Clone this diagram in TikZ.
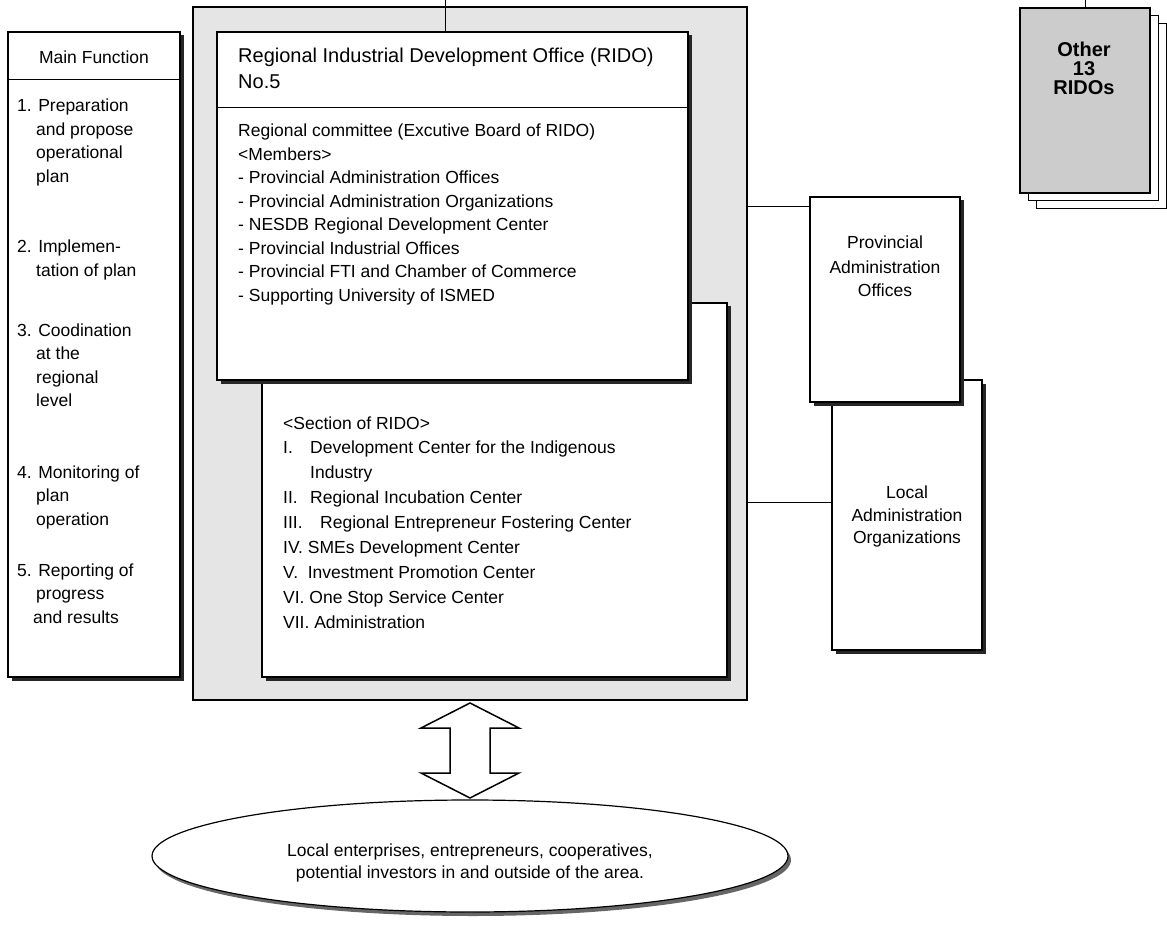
\documentclass[tikz,border=0pt]{standalone}
\usepackage{fontspec}
\setmainfont{Liberation Sans}
\usetikzlibrary{shadows,shapes.geometric}
\newcommand\fbody{\fontsize{17.5pt}{23.5pt}\selectfont}
\newcommand\ftitle{\fontsize{20pt}{26pt}\selectfont}
\newcommand\fother{\fontsize{20pt}{19pt}\selectfont\bfseries}
\tikzset{
  panel/.style={draw=black, line width=1.2pt, fill=white, inner sep=0pt, rectangle},
  shadowed/.style={drop shadow={shadow xshift=3.5pt, shadow yshift=-3.5pt, fill=black!85, opacity=1}},
  lbl/.style={anchor=base west, inner sep=0pt, font=\fbody},
  clbl/.style={anchor=base, inner sep=0pt, font=\fbody},
  link/.style={draw=black, line width=1pt},
}
\begin{document}
\begin{tikzpicture}[x=1pt,y=-1pt]
\useasboundingbox (0,0) rectangle (1167,925);

% ---------- Main Function box ----------
\node[panel, shadowed, minimum width=172pt, minimum height=645pt] (mf) at (94,354.5) {};
\coordinate (mfsep) at (0,80);
\draw[link] (mf.west |- mfsep) -- (mf.east |- mfsep);
\node[clbl] (mft) at (94,64) {Main Function};
\node[lbl] at (17,112) {1. Preparation};
\node[lbl] at (36,135.5) {and propose};
\node[lbl] at (36,159) {operational};
\node[lbl] at (36,182.5) {plan};
\node[lbl] at (17,253) {2. Implemen-};
\node[lbl] at (36,276.5) {tation of plan};
\node[lbl] at (17,336) {3. Coodination};
\node[lbl] at (36,359.5) {at the};
\node[lbl] at (36,383) {regional};
\node[lbl] at (36,406.5) {level};
\node[lbl] at (17,478) {4. Monitoring of};
\node[lbl] at (36,501.5) {plan};
\node[lbl] at (36,525) {operation};
\node[lbl] at (17,576) {5. Reporting of};
\node[lbl] at (36,599.5) {progress};
\node[lbl] at (33,623) {and results};

% ---------- outer shaded RIDO frame ----------
\node[draw=black, line width=1.2pt, fill=black!10, inner sep=0pt, minimum width=554pt, minimum height=693pt] (outer) at (470,353.5) {};

% section box (behind committee box)
\node[panel, shadowed, minimum width=465pt, minimum height=374pt] (sec) at (494.5,490) {};
% committee box
\node[panel, shadowed, minimum width=471pt, minimum height=348pt] (rido) at (452.5,206) {};
\coordinate (ridosep) at (0,108);
\draw[link] (rido.west |- ridosep) -- (rido.east |- ridosep);

\node[lbl, font=\ftitle] at (238,63) {Regional Industrial Development Office (RIDO)};
\node[lbl, font=\ftitle] at (238,89) {No.5};
\node[lbl] at (238,137) {Regional committee (Excutive Board of RIDO)};
\node[lbl] at (238,160.5) {<Members>};
\node[lbl] at (238,184) {- Provincial Administration Offices};
\node[lbl] at (238,207.5) {- Provincial Administration Organizations};
\node[lbl] at (238,231) {- NESDB Regional Development Center};
\node[lbl] at (238,254.5) {- Provincial Industrial Offices};
\node[lbl] at (238,278) {- Provincial FTI and Chamber of Commerce};
\node[lbl] at (238,301.5) {- Supporting University of ISMED};

\node[lbl] at (283,429) {<Section of RIDO>};
\node[lbl] at (283,453) {I.};
\node[lbl] at (310,453) {Development Center for the Indigenous};
\node[lbl] at (310,478) {Industry};
\node[lbl] at (283,503) {II.};
\node[lbl] at (310,503) {Regional Incubation Center};
\node[lbl] at (283,528) {III.};
\node[lbl] at (320,528) {Regional Entrepreneur Fostering Center};
\node[lbl] at (283,553) {IV. SMEs Development Center};
\node[lbl] at (283,578) {V.~~Investment Promotion Center};
\node[lbl] at (283,603) {VI. One Stop Service Center};
\node[lbl] at (283,628) {VII. Administration};

% ---------- right boxes ----------
\node[panel, shadowed, minimum width=150pt, minimum height=270pt] (loc) at (907,515) {};
\node[panel, shadowed, minimum width=150pt, minimum height=205pt] (prov) at (885,299.5) {};
\node[clbl] at (885,249) {Provincial};
\node[clbl] at (885,274) {Administration};
\node[clbl] at (885,297) {Offices};
\node[clbl] at (907,498) {Local};
\node[clbl] at (907,521) {Administration};
\node[clbl] at (907,543) {Organizations};

\coordinate (c1) at (0,207);
\coordinate (c2) at (0,502);
\draw[link] (outer.east |- c1) -- (prov.west |- c1);
\draw[link] (outer.east |- c2) -- (loc.west |- c2);

% ---------- top connectors ----------
\coordinate (topA) at (445,0);
\draw[link] (topA) -- (rido.north -| topA);

% ---------- other 13 RIDOs ----------
\node[panel, line width=1pt, minimum width=130pt, minimum height=185pt] (p3) at (1101,116.5) {};
\node[panel, line width=1pt, minimum width=130pt, minimum height=185pt] (p2) at (1093,108.5) {};
\node[panel, line width=1.2pt, fill=black!20, minimum width=130pt, minimum height=185pt] (p1) at (1085,100.5) {};
\coordinate (topB) at (1085,0);
\draw[link] (topB) -- (p1.north);
\node[anchor=base, inner sep=0pt, font=\fother] at (1084,57) {Other};
\node[anchor=base, inner sep=0pt, font=\fother] at (1084,76) {13};
\node[anchor=base, inner sep=0pt, font=\fother] at (1084,95) {RIDOs};

% ---------- ellipse ----------
\node[ellipse, draw=black, line width=1.2pt, fill=white, inner sep=0pt, minimum width=636pt, minimum height=112pt,
      drop shadow={shadow xshift=3pt, shadow yshift=-4pt, fill=black!60, opacity=1}] (ell) at (470,856) {};
\node[clbl] at (470,856) {Local enterprises, entrepreneurs, cooperatives,};
\node[clbl] at (470,878) {potential investors in and outside of the area.};

% ---------- double arrow ----------
\draw[line width=1.5pt, fill=white, line join=miter]
  (470,703) -- (519,728) -- (490,728) -- (490,773) -- (519,773) -- (470,798)
  -- (421,773) -- (450,773) -- (450,728) -- (421,728) -- cycle;
\end{tikzpicture}
\end{document}
